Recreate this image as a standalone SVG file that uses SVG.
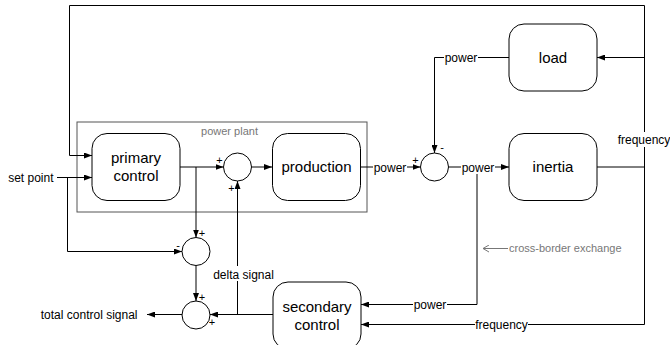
<svg xmlns="http://www.w3.org/2000/svg" width="670" height="345" viewBox="0 0 670 345">
<style>
.box{fill:#fff;stroke:#000;stroke-width:1}
.sum{fill:#fff;stroke:#000;stroke-width:1}
.ln{fill:none;stroke:#000;stroke-width:1}
.arr{marker-end:url(#ah)}
.big{font-family:"Liberation Sans",Arial,sans-serif;font-size:15px;fill:#000;text-anchor:middle}
.lbl{font-family:"Liberation Sans",Arial,sans-serif;font-size:12px;fill:#000}
.sgn{font-family:"Liberation Sans",Arial,sans-serif;font-size:11px;fill:#000;text-anchor:middle}
.grey{font-family:"Liberation Sans",Arial,sans-serif;font-size:11px;fill:#777}
.bg{fill:#fff}
</style>
<defs>
<marker id="ah" markerWidth="8" markerHeight="6" refX="8" refY="3" orient="auto" markerUnits="userSpaceOnUse">
<path d="M0,0 L8,3 L0,6 z" fill="#000"/>
</marker>
<marker id="oa" markerWidth="8" markerHeight="8" refX="7" refY="4" orient="auto" markerUnits="userSpaceOnUse">
<path d="M1,0.5 L7,4 L1,7.5" fill="none" stroke="#777" stroke-width="1"/>
</marker>
</defs>

<g id="power-plant-frame">
<rect x="77" y="122" width="290" height="90" fill="none" stroke="#555" stroke-width="1"/>
<text class="grey" x="229.5" y="135" text-anchor="middle">power plant</text>
</g>

<g id="connectors">
<path class="ln arr" d="M644.5,167 V5.5 H69.5 V155.5 H92"/>
<path class="ln arr" d="M644.5,57.5 H597"/>
<path class="ln arr" d="M597,167 H644.5 V324.5 H361"/>
<path class="ln arr" d="M57,177.5 H92"/>
<path class="ln arr" d="M67.5,177.5 V251.5 H182"/>
<path class="ln arr" d="M180,167 H223.5"/>
<path class="ln arr" d="M196,167 V237.5"/>
<path class="ln arr" d="M251.5,167 H272"/>
<path class="ln arr" d="M361,167 H420.5"/>
<path class="ln arr" d="M509,57.5 H434.5 V153"/>
<path class="ln arr" d="M448.5,167 H509"/>
<path class="ln arr" d="M477,167 V304.5 H361"/>
<path class="ln arr" d="M196,265.5 V301"/>
<path class="ln arr" d="M273,314.5 H210"/>
<path class="ln arr" d="M237.5,314.5 V181"/>
<path class="ln arr" d="M182,314.5 H147"/>
<path d="M508,248.5 H483" fill="none" stroke="#777" stroke-width="1" marker-end="url(#oa)"/>

<rect class="bg" x="373" y="160" width="34" height="14"/>
<text class="lbl" x="390" y="171.5" text-anchor="middle">power</text>
<rect class="bg" x="444" y="51" width="34" height="14"/>
<text class="lbl" x="461" y="62" text-anchor="middle">power</text>
<rect class="bg" x="461" y="160" width="34" height="14"/>
<text class="lbl" x="478" y="171.5" text-anchor="middle">power</text>
<rect class="bg" x="413" y="298" width="34" height="14"/>
<text class="lbl" x="430" y="308.5" text-anchor="middle">power</text>
<rect class="bg" x="617" y="132" width="53" height="15"/>
<text class="lbl" x="644" y="143.5" text-anchor="middle">frequency</text>
<rect class="bg" x="475" y="318" width="53" height="14"/>
<text class="lbl" x="501.5" y="328.5" text-anchor="middle">frequency</text>
<rect class="bg" x="212" y="266" width="63" height="15"/>
<text class="lbl" x="243.5" y="278.5" text-anchor="middle">delta signal</text>
<text class="lbl" x="53.5" y="181.8" text-anchor="end">set point</text>
<text class="lbl" x="137.5" y="318.8" text-anchor="end">total control signal</text>
<text class="grey" x="509" y="252.3">cross-border exchange</text>
</g>

<g id="primary-control">
<rect class="box" x="92" y="133.5" width="88" height="67" rx="15"/>
<text class="big" x="136" y="163.4">primary</text>
<text class="big" x="136" y="181.4">control</text>
</g>

<g id="production">
<rect class="box" x="272.5" y="133.5" width="88" height="67" rx="15"/>
<text class="big" x="316.5" y="172.4">production</text>
</g>

<g id="load">
<rect class="box" x="509" y="24" width="88" height="67" rx="15"/>
<text class="big" x="553" y="62.9">load</text>
</g>

<g id="inertia">
<rect class="box" x="509" y="133.5" width="88" height="67" rx="15"/>
<text class="big" x="553" y="172.4">inertia</text>
</g>

<g id="secondary-control">
<rect class="box" x="273" y="282" width="88" height="67" rx="15"/>
<text class="big" x="317" y="311.9">secondary</text>
<text class="big" x="317" y="329.9">control</text>
</g>

<g id="sum-production">
<circle class="sum" cx="237.5" cy="167" r="14"/>
<text class="sgn" x="219.5" y="163.5">+</text>
<text class="sgn" x="231.5" y="192">+</text>
</g>

<g id="sum-difference">
<circle class="sum" cx="196" cy="251.5" r="14"/>
<text class="sgn" x="202" y="237">+</text>
<text class="sgn" x="178" y="248.5">-</text>
</g>

<g id="sum-power">
<circle class="sum" cx="434.5" cy="167" r="14"/>
<text class="sgn" x="415.5" y="163.5">+</text>
<text class="sgn" x="442" y="151">-</text>
</g>

<g id="sum-total">
<circle class="sum" cx="196" cy="315" r="14"/>
<text class="sgn" x="202" y="300.5">+</text>
<text class="sgn" x="212" y="325.5">+</text>
</g>
</svg>
